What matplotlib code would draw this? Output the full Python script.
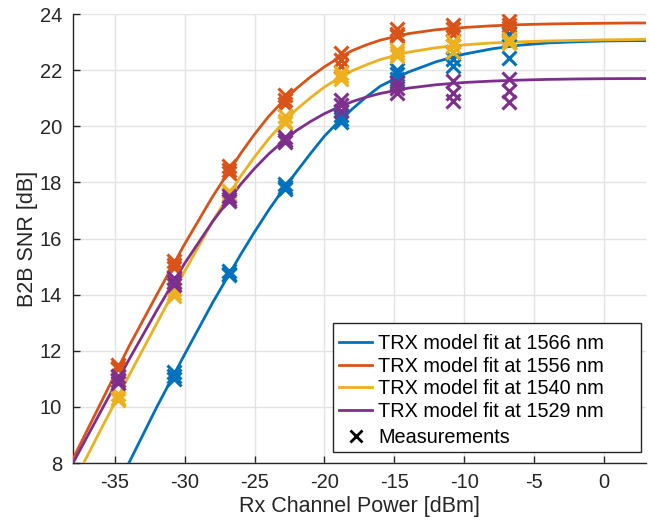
import matplotlib
matplotlib.use("Agg")
import matplotlib.pyplot as plt
from matplotlib.lines import Line2D
from matplotlib.patches import Rectangle

plt.rcParams['font.family'] = ['Liberation Sans', 'DejaVu Sans']
plt.rcParams['axes.unicode_minus'] = False

# ---- data ----
curve_x = [-38, -36, -34, -32, -30, -28, -26, -25, -24, -23, -22, -21, -20, -19, -18, -17, -16,
           -14, -12, -10, -8, -6, -4, -2, 0, 2, 3]
fit_1566 = [4.04, 6.02, 8.0, 10.0, 11.88, 13.72, 15.43, 16.24, 17.01, 17.72, 18.38, 19.03, 19.65, 20.16, 20.62, 21.05, 21.43,
            21.93, 22.3, 22.57, 22.76, 22.89, 22.97, 23.01, 23.04, 23.05, 23.05]
fit_1556 = [8.15, 10.15, 12.15, 14.0, 15.81, 17.5, 19.03, 19.72, 20.35, 20.88, 21.35, 21.76, 22.12, 22.43, 22.7, 22.9, 23.07,
            23.3, 23.44, 23.52, 23.58, 23.62, 23.645, 23.66, 23.67, 23.68, 23.68]
fit_1540 = [7.26, 9.2, 11.11, 12.98, 14.84, 16.62, 18.22, 18.91, 19.55, 20.1, 20.6, 21.02, 21.4, 21.71, 21.98, 22.19, 22.38,
            22.64, 22.8, 22.9, 22.97, 23.01, 23.04, 23.06, 23.08, 23.09, 23.1]
fit_1529 = [8.0, 9.85, 11.68, 13.44, 15.12, 16.61, 17.93, 18.5, 19.01, 19.45, 19.85, 20.17, 20.45, 20.68, 20.88, 21.04, 21.17,
            21.36, 21.48, 21.56, 21.61, 21.645, 21.67, 21.685, 21.695, 21.7, 21.7]

meas_x = [-34.8, -30.8, -26.8, -22.8, -18.8, -14.8, -10.8, -6.8]
meas_1566 = [[6.9, 7.0, 7.1], [11.25, 11.1, 11.0], [14.85, 14.75, 14.7], [17.95, 17.85, 17.75],
             [20.4, 20.25, 20.15], [22.0, 21.85, 21.7], [22.65, 22.4, 22.15], [23.3, 23.0, 22.42]]
meas_1556 = [[11.5, 11.4, 11.35], [15.2, 15.05, 14.95], [18.6, 18.45, 18.35], [21.1, 20.95, 20.8],
             [22.6, 22.35, 22.15], [23.45, 23.3, 23.2], [23.6, 23.45, 23.3], [23.75, 23.6, 23.5]]
meas_1540 = [[10.45, 10.3, 10.25], [14.2, 14.05, 13.95], [17.7, 17.6, 17.55], [20.35, 20.2, 20.1],
             [21.9, 21.8, 21.7], [22.7, 22.6, 22.5], [23.0, 22.85, 22.65], [23.1, 23.0, 22.95]]
meas_1529 = [[11.1, 10.95, 10.85], [14.6, 14.45, 14.35], [17.5, 17.4, 17.35], [19.6, 19.5, 19.45],
             [20.95, 20.75, 20.55], [21.55, 21.35, 21.2], [21.62, 21.2, 20.9], [21.7, 21.25, 20.85]]

labels = ['TRX model fit at 1566 nm', 'TRX model fit at 1556 nm',
          'TRX model fit at 1540 nm', 'TRX model fit at 1529 nm']
meas_label = 'Measurements'
x_ticks = [-35, -30, -25, -20, -15, -10, -5, 0]
y_ticks = [8, 10, 12, 14, 16, 18, 20, 22, 24]

colors = ['#0072BD', '#D95319', '#EDB120', '#7E2F8E']
fits = [fit_1566, fit_1556, fit_1540, fit_1529]
meas = [meas_1566, meas_1556, meas_1540, meas_1529]

fig = plt.figure(figsize=(6.49, 5.23), dpi=100)
ax = fig.add_axes([0.1125, 0.1147, 0.8826, 0.8585])

handles = []
for f, c, lab in zip(fits, colors, labels):
    h, = ax.plot(curve_x, f, color=c, lw=2.0, label=lab, zorder=3)
    handles.append(h)

for m, c in zip(meas, colors):
    for xv, ys in zip(meas_x, m):
        ax.plot([xv] * len(ys), ys, linestyle='none', marker='x', color=c,
                markersize=9.5, mew=2.2, zorder=4, clip_on=True)

meas_handle = Line2D([], [], linestyle='none', marker='x', color='black',
                     markersize=8.5, mew=2.0)

ax.set_xlim(-38, 3)
ax.set_ylim(8, 24)
ax.set_xticks(x_ticks)
ax.set_yticks(y_ticks)
ax.grid(True, color='#e3e3e3', lw=1.0)
ax.set_axisbelow(True)
for s in ['top', 'right']:
    ax.spines[s].set_visible(False)
for s in ['left', 'bottom']:
    ax.spines[s].set_color('#262626')
    ax.spines[s].set_linewidth(1.0)
ax.tick_params(direction='in', length=5, width=1, colors='#262626', labelsize=14.5)
ax.tick_params(axis='x', pad=7)
ax.tick_params(axis='y', pad=8)

ax.set_xlabel('Rx Channel Power [dBm]', fontsize=15.5, color='#262626', labelpad=3)
ax.set_ylabel('B2B SNR [dB]', fontsize=15.5, color='#262626', labelpad=1)

# legend box (MATLAB style, with wide right margin)
ax.add_patch(Rectangle((0.454, 0.0245), 0.9916 - 0.454, 0.312 - 0.0245,
                       transform=ax.transAxes, facecolor='white',
                       edgecolor='#262626', lw=1.0, zorder=5))
common = dict(loc='upper left', borderaxespad=0, fontsize=14.3, frameon=False,
              handlelength=1.66, handletextpad=0.3, borderpad=0)
leg1 = ax.legend(handles, labels, bbox_to_anchor=(0.4644, 0.2875),
                 labelspacing=0.18, **common)
leg1.set_zorder(6)
ax.add_artist(leg1)
leg2 = ax.legend([meas_handle], [meas_label], bbox_to_anchor=(0.4644, 0.078),
                 **common)
leg2.set_zorder(6)

fig.savefig('out.png', dpi=100)
